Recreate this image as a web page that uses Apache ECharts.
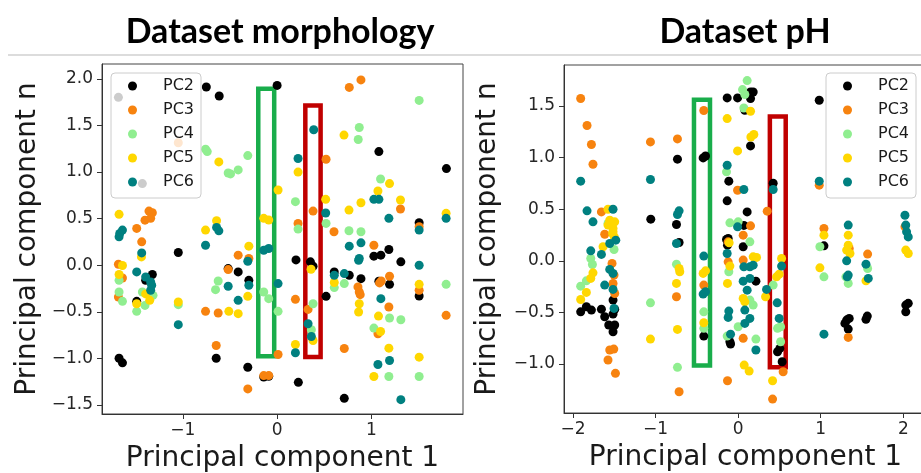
<!DOCTYPE html>
<html>
<head>
<meta charset="utf-8">
<script src="https://cdn.jsdelivr.net/npm/echarts@6/dist/echarts.min.js"></script>
<style>
  html, body { margin: 0; padding: 0; background: #fff; }
  #chart { width: 921px; height: 473px; }
</style>
</head>
<body>
<div id="chart"></div>
<script>
// ---- Dataset morphology: principal component 1 vs component n ----
const morphPC2 = [[-1.683,1.802],[-0.751,1.913],[-0.614,1.816],[0.0,1.93],[-1.429,0.876],[1.079,1.22],[1.795,1.037],[1.506,0.456],
  [-1.048,0.137],[-1.323,-0.1],[-1.394,-0.162],[-1.489,-0.388],[-1.676,-0.998],[-1.64,-1.048],[-0.646,-0.998],[-0.311,-1.095],
  [-0.142,-1.2],[-0.089,-1.192],[-0.519,-0.036],[-0.413,-0.072],[-0.3,-0.162],[1.026,0.097],[1.1,0.108],[1.185,0.169],
  [1.312,0.036],[0.2,0.057],[0.353,0.036],[0.381,-0.011],[0.606,-0.072],[0.765,-0.108],[0.889,-0.144],[0.519,-0.334],
  [0.225,-1.257],[0.712,-1.429],[1.079,-0.172],[1.192,-0.205],[1.506,-0.33]];
const morphPC3 = [[-1.048,1.315],[0.765,1.909],[0.889,1.989],[0.519,1.138],[1.308,0.603],[0.381,0.581],[1.506,0.413],[0.222,0.449],
  [0.603,0.359],[-1.359,0.581],[-1.323,0.563],[-1.341,0.503],[-1.401,0.484],[-1.489,0.395],[-1.436,0.251],[-1.683,0.011],
  [-1.64,-0.137],[-1.683,-0.341],[-0.759,-0.495],[-0.625,-0.513],[-0.646,-0.862],[-0.311,-1.328],[-0.142,-1.185],[-0.089,-1.185],
  [0.01,-0.958],[-0.413,0.108],[-0.3,0.072],[-0.519,-0.047],[1.026,0.215],[0.857,-0.233],[0.871,-0.287],[0.881,-0.316],
  [0.194,-0.366],[0.328,-0.474],[0.712,-0.894],[1.086,-0.19],[1.104,-0.169],[1.192,-0.118],[1.185,-0.449],[1.069,-0.736],
  [1.506,-0.269],[1.792,-0.538]];
const morphPC4 = [[-0.759,1.246],[-0.741,1.22],[-0.519,0.99],[-0.494,0.98],[-0.413,1.023],[-0.311,1.177],[1.506,1.769],[0.871,1.478],
  [0.86,1.349],[1.097,0.926],[0.194,0.682],[0.222,0.388],[0.519,0.449],[0.762,0.37],[0.889,0.359],[-1.676,-0.162],[-1.676,-0.287],
  [-1.64,-0.388],[-1.429,-0.287],[-1.316,-0.323],[-1.401,-0.431],[-1.489,-0.495],[-1.048,-0.423],[-0.625,-0.169],[-0.653,-0.262],
  [-0.142,-0.287],[-0.089,-0.359],[0.01,-0.495],[0.606,-0.24],[0.712,-0.197],[0.381,-0.413],[0.363,-0.693],[1.192,-0.567],
  [1.312,-0.585],[1.026,-0.675],[1.185,-1.195],[1.506,-1.195],[1.792,-0.205]];
const morphPC5 = [[-0.618,1.109],[0.01,0.807],[-1.676,0.546],[-0.759,0.377],[-0.642,0.477],[-0.142,0.503],[-0.089,0.485],[0.709,1.397],
  [0.222,1.0],[1.192,0.876],[1.069,0.797],[1.308,0.7],[0.515,0.707],[0.762,0.592],[0.889,0.671],[1.792,0.557],[-1.439,0.089],
  [-1.64,-0.003],[-1.676,-0.1],[-1.394,-0.308],[-1.351,-0.377],[-1.489,-0.413],[-1.048,-0.395],[-0.512,-0.495],[-0.413,-0.52],
  [-0.3,0.205],[-0.311,-0.334],[0.36,-0.043],[0.606,-0.186],[0.871,-0.413],[0.864,-0.502],[0.381,-0.808],[0.194,-0.851],
  [1.075,-0.546],[1.097,-0.711],[1.185,-0.89],[1.026,-1.195],[1.506,-0.205],[1.506,-0.987]];
const morphPC6 = [[0.388,1.454],[0.222,1.145],[1.026,0.707],[1.079,0.707],[0.515,0.56],[1.185,0.503],[1.792,0.503],[1.506,0.377],
  [-1.64,0.377],[-1.669,0.341],[-1.676,0.305],[-0.642,0.406],[-0.618,0.369],[-1.436,0.132],[-0.759,0.215],[-1.489,-0.072],
  [-1.394,-0.126],[-1.341,-0.18],[-1.33,-0.215],[-1.341,-0.269],[-1.048,-0.638],[-0.519,-0.226],[-0.413,-0.377],[-0.311,0.043],
  [-0.3,-0.215],[-0.142,0.161],[-0.089,0.18],[0.01,-0.197],[0.765,0.205],[0.889,0.24],[0.864,0.054],[0.871,0.072],[1.506,0.0],
  [0.606,-0.108],[0.712,-0.09],[0.328,-0.628],[0.363,-0.765],[0.194,-0.94],[1.1,-0.359],[1.069,-1.066],[1.192,-1.023],[1.312,-1.443]];

// ---- Dataset pH ----
const phPC2 = [[-0.735,0.985],[-0.424,0.997],[-0.395,1.016],[-1.058,0.404],[-0.747,0.352],[-0.133,1.578],[-0.113,0.772],[-0.133,0.581],
  [-0.007,1.578],[0.15,1.636],[0.182,1.636],[0.15,1.572],[0.081,1.459],[0.15,1.113],[0.424,0.752],[0.982,1.556],[0.109,0.474],
  [0.069,0.343],[-0.141,0.207],[-1.907,-0.494],[-1.838,-0.445],[-1.777,-0.477],[-1.656,-0.468],[-1.616,-0.542],[-1.515,-0.516],
  [-1.495,-0.47],[-1.515,-0.38],[-1.567,-0.622],[-1.495,-0.622],[-1.515,-0.687],[-0.715,0.178],[-0.416,-0.729],[-0.121,0.217],
  [-0.129,0.152],[-0.1,-0.784],[-0.092,-0.806],[0.061,0.136],[0.215,-0.197],[0.477,-0.881],[0.505,-0.848],[0.533,-0.978],
  [1.039,0.145],[1.314,-0.574],[1.345,-0.558],[1.293,-0.606],[1.333,-0.661],[1.564,-0.535],[1.548,-0.567],[2.03,-0.429],
  [2.06,-0.412],[2.03,-0.494]];
const phPC3 = [[-1.907,1.572],[-1.83,1.311],[-1.777,1.127],[-1.758,0.936],[-1.062,1.152],[-0.735,1.181],[-0.416,1.456],[-1.656,0.474],
  [-0.007,0.684],[0.352,0.481],[0.982,0.733],[0.15,0.339],[1.039,0.313],[2.02,0.329],[-1.616,0.258],[-1.527,-0.025],[-1.503,-0.138],
  [-1.515,-0.219],[-1.495,-0.316],[-1.555,-0.864],[-1.506,-0.855],[-1.576,-0.961],[-1.486,-1.09],[-0.747,-0.348],[-0.715,-1.268],
  [-0.416,-0.235],[-0.121,0.184],[-0.121,-0.01],[-0.129,-1.162],[0.061,0.249],[0.061,0.007],[0.061,-0.751],[0.545,-1.074],
  [0.417,-1.339],[1.345,0.12],[1.333,-0.742],[1.568,0.065]];
const phPC4 = [[-1.576,0.362],[-0.141,0.862],[0.0,0.378],[0.053,1.659],[0.081,1.611],[0.109,1.746],[0.069,1.481],[-0.1,0.368],
  [-1.503,0.11],[-1.785,0.023],[-1.765,-0.035],[-1.838,-0.194],[-1.907,-0.245],[-1.062,-0.407],[-0.747,-0.032],[-0.735,-1.032],
  [-0.416,-0.494],[-0.416,-0.654],[-0.113,-0.106],[-0.133,-0.729],[0.142,0.184],[0.142,-0.38],[0.182,-0.429],[0.0,-0.639],
  [0.215,-0.758],[0.424,-0.235],[0.477,-0.654],[0.514,-0.639],[0.514,-0.784],[0.99,0.136],[1.039,-0.155],[1.305,-0.155],
  [1.333,-0.219],[1.568,-0.074]];
const phPC5 = [[-1.576,0.5],[-1.555,0.394],[-1.495,0.378],[-1.515,0.314],[-1.576,0.346],[-1.52,0.265],[-1.5,0.232],[-1.636,0.136],
  [-0.133,1.378],[-0.007,1.065],[0.15,1.449],[0.154,1.2],[0.19,1.224],[-1.515,0.281],[-1.758,-0.116],[-1.785,-0.17],[-1.838,-0.306],
  [-1.907,-0.374],[-1.062,-0.758],[-0.715,-0.074],[-0.707,-0.106],[-0.747,-0.219],[-0.735,-0.664],[-0.424,-0.122],[-0.395,-0.097],
  [-0.416,-0.6],[-0.109,0.174],[-0.1,-0.051],[-0.129,-0.219],[0.182,0.039],[0.223,0.033],[0.061,-0.364],[0.081,-0.397],
  [0.073,-1.01],[0.133,-1.068],[0.332,-0.348],[0.465,-0.155],[0.497,-0.129],[0.526,0.023],[0.417,-1.162],[0.99,-0.068],
  [1.039,0.249],[1.333,0.249],[1.333,0.152],[1.314,0.104],[1.354,0.071],[1.548,-0.194],[2.03,0.104],[2.06,0.071]];
const phPC6 = [[-1.907,0.772],[-1.062,0.788],[-1.83,0.484],[-1.758,0.378],[-1.515,0.5],[-0.735,0.449],[-0.715,0.484],[-0.133,0.926],
  [-0.007,0.329],[0.424,0.691],[0.982,0.772],[0.069,0.691],[1.333,0.346],[2.02,0.442],[2.03,0.346],[2.04,0.281],[2.06,0.232],
  [-1.482,0.2],[-1.555,0.168],[-1.785,0.097],[-1.656,0.062],[-1.555,-0.083],[-1.515,-0.122],[-1.616,-0.235],[-1.515,-0.277],
  [-1.503,-0.461],[-0.747,0.168],[-0.416,0.046],[-0.395,-0.3],[-0.424,-0.322],[-0.133,0.071],[-0.113,-0.487],[-0.121,-0.548],
  [-0.092,-0.71],[0.069,-0.058],[0.142,-0.058],[0.182,-0.042],[0.061,-0.197],[0.142,-0.17],[0.109,-0.284],[0.081,-0.477],
  [0.142,-0.558],[0.081,-0.606],[0.215,-0.864],[0.344,-0.277],[0.526,-0.051],[0.473,-0.407],[0.497,-0.558],[1.039,-0.71],
  [1.314,0.0],[1.333,-0.138],[1.321,-0.155],[1.548,-0.032],[1.576,-0.17]];

// Highlight boxes: [x1, y1, x2, y2] in data units
const morphGreenBox = [-0.2, 1.894, -0.031, -0.978];
const morphRedBox = [0.299, 1.714, 0.461, -0.985];
const phGreenBox = [-0.535, 1.561, -0.341, -1.015];
const phRedBox = [0.384, 1.399, 0.576, -1.031];

// Axis ranges and tick labels
const morphXRange = [-1.857, 1.971];
const morphYRange = [-1.597, 2.16];
const phXRange = [-2.109, 2.287];
const phYRange = [-1.474, 1.897];
const morphXTicks = [-1, 0, 1];
const morphYTicks = [-1.5, -1.0, -0.5, 0.0, 0.5, 1.0, 1.5, 2.0];
const phXTicks = [-2, -1, 0, 1, 2];
const phYTicks = [-1.0, -0.5, 0.0, 0.5, 1.0, 1.5];

const seriesNames = ['PC2', 'PC3', 'PC4', 'PC5', 'PC6'];
const seriesColors = ['#000000', '#f7830f', '#90ee90', '#ffd700', '#008080'];

const minus = '\u2212';
const fmtInt = v => (v < 0 ? minus : '') + Math.abs(Math.round(v));
const fmtDec = v => (v < -1e-9 ? minus : '') + Math.abs(v).toFixed(1);

const chart = echarts.init(document.getElementById('chart'), null, { renderer: 'canvas' });

const tickFont = { fontFamily: 'DejaVu Sans', fontSize: 17, color: '#262626' };
const nameFont = { fontFamily: 'DejaVu Sans', fontSize: 28, color: '#1a1a1a' };

function xAxis(gridIndex, range, ticks) {
  return {
    type: 'value', gridIndex, min: range[0], max: range[1],
    name: 'Principal component 1', nameLocation: 'middle', nameGap: 31, nameTextStyle: nameFont,
    splitLine: { show: false },
    axisLine: { show: true, onZero: false, lineStyle: { color: '#333', width: 1 } },
    axisTick: { show: true, length: 5, lineStyle: { color: '#333' }, customValues: ticks },
    axisLabel: { ...tickFont, margin: 8, customValues: ticks, formatter: fmtInt }
  };
}
function yAxis(gridIndex, range, ticks, gap) {
  return {
    type: 'value', gridIndex, min: range[0], max: range[1],
    name: 'Principal component n', nameLocation: 'middle', nameGap: gap, nameRotate: 90, nameTextStyle: nameFont,
    splitLine: { show: false },
    axisLine: { show: true, onZero: false, lineStyle: { color: '#333', width: 1 } },
    axisTick: { show: true, length: 5, lineStyle: { color: '#333' }, customValues: ticks },
    axisLabel: { ...tickFont, margin: 9, customValues: ticks, formatter: fmtDec }
  };
}

function scatter(name, data, color, idx) {
  return {
    type: 'scatter', name, data, xAxisIndex: idx, yAxisIndex: idx,
    symbol: 'circle', symbolSize: 9,
    itemStyle: { color, opacity: 1 },
    emphasis: { disabled: true }, silent: true, animation: false
  };
}

function boxSeries(idx, boxes) {
  return {
    type: 'scatter', name: 'boxes' + idx, data: [], xAxisIndex: idx, yAxisIndex: idx, z: 3, silent: true,
    markArea: {
      silent: true,
      data: boxes.map(b => [
        { coord: [b.box[0], b.box[1]], itemStyle: { color: 'rgba(0,0,0,0)', borderColor: b.color, borderWidth: 4.5 } },
        { coord: [b.box[2], b.box[3]] }
      ])
    }
  };
}

const morphSets = [morphPC2, morphPC3, morphPC4, morphPC5, morphPC6];
const phSets = [phPC2, phPC3, phPC4, phPC5, phPC6];

const series = [];
morphSets.forEach((d, i) => series.push(scatter(seriesNames[i], d, seriesColors[i], 0)));
phSets.forEach((d, i) => series.push(scatter(seriesNames[i], d, seriesColors[i], 1)));
series.push(boxSeries(0, [{ box: morphGreenBox, color: '#19ad4b' }, { box: morphRedBox, color: '#c00000' }]));
series.push(boxSeries(1, [{ box: phGreenBox, color: '#19ad4b' }, { box: phRedBox, color: '#c00000' }]));

function legend(pos) {
  return Object.assign({
    orient: 'vertical',
    data: seriesNames.map(n => ({ name: n, icon: 'circle' })),
    itemWidth: 9, itemHeight: 9, itemGap: 6,
    padding: [4, 7, 7, 17],
    backgroundColor: 'rgba(255,255,255,0.8)',
    borderColor: '#cccccc', borderWidth: 1, borderRadius: 4,
    selectedMode: false,
    textStyle: { fontFamily: 'DejaVu Sans', fontSize: 16, color: '#1a1a1a', lineHeight: 18, padding: [0, 0, 0, 21] }
  }, pos);
}

const gridBase = { show: true, borderColor: '#444', borderWidth: 1, backgroundColor: '#fff', containLabel: false, outerBoundsMode: 'none' };

chart.setOption({
  animation: false,
  backgroundColor: '#ffffff',
  grid: [
    Object.assign({ left: 102, top: 64, width: 361, height: 350 }, gridBase),
    Object.assign({ left: 564, top: 65, width: 363, height: 348 }, gridBase)
  ],
  xAxis: [xAxis(0, morphXRange, morphXTicks), xAxis(1, phXRange, phXTicks)],
  yAxis: [yAxis(0, morphYRange, morphYTicks, 60), yAxis(1, phYRange, phYTicks, 62)],
  legend: [legend({ left: 111, top: 73 }), legend({ left: 826, top: 73 })],
  series,
  graphic: [
    { type: 'line', silent: true, shape: { x1: 8, y1: 55, x2: 921, y2: 55 }, style: { stroke: '#dcdcdc', lineWidth: 2 } },
    { type: 'text', silent: true, x: 280, y: 32, style: { text: 'Dataset morphology', font: 'bold 34px Lato', fill: '#000', align: 'center', verticalAlign: 'middle' } },
    { type: 'text', silent: true, x: 745, y: 32, style: { text: 'Dataset pH', font: 'bold 34px Lato', fill: '#000', align: 'center', verticalAlign: 'middle' } }
  ]
});
</script>
</body>
</html>
